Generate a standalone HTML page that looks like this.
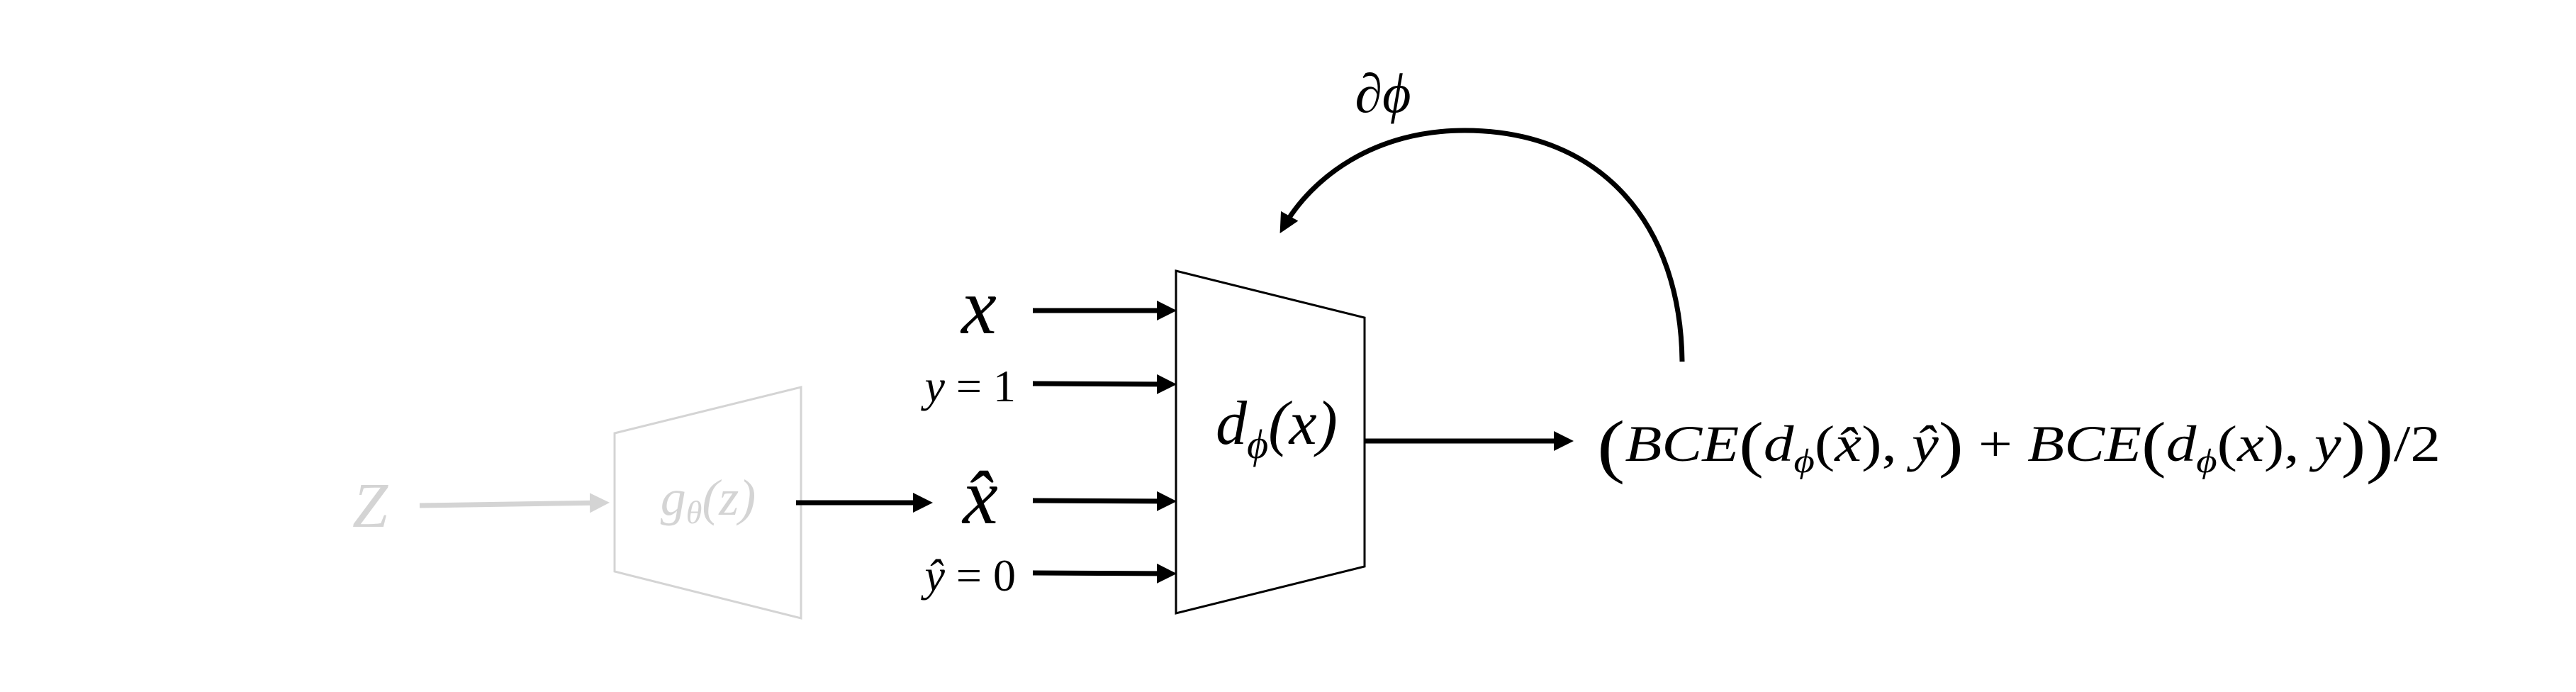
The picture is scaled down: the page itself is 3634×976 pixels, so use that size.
<!DOCTYPE html>
<html><head><meta charset="utf-8"><style>
html,body{margin:0;padding:0;background:#fff;}
svg{display:block;}
text{font-family:"Liberation Serif","DejaVu Serif",serif;font-style:italic;}
</style></head><body>
<svg width="3634" height="976" viewBox="0 0 3634 976" xmlns="http://www.w3.org/2000/svg">
<defs>
<marker id="ah" markerWidth="4" markerHeight="4" refX="3" refY="2" orient="auto" markerUnits="strokeWidth"><path d="M0,0 L4,2 L0,4 z" fill="#000"/></marker>
<marker id="ahg" markerWidth="4" markerHeight="4" refX="3" refY="2" orient="auto" markerUnits="strokeWidth"><path d="M0,0 L4,2 L0,4 z" fill="#d4d4d4"/></marker>
</defs>
<rect width="3634" height="976" fill="#fff"/>
<g transform="translate(-9,-2)">
<!-- generator (faded) -->
<text x="506" y="745" font-size="90" fill="#d4d4d4">Z</text>
<line x1="601" y1="715" x2="862" y2="711" stroke="#d4d4d4" stroke-width="7" marker-end="url(#ahg)"/>
<polygon points="876,613 1139,548 1139,874 876,808" fill="none" stroke="#d4d4d4" stroke-width="3"/>
<text x="1008" y="728" font-size="72" fill="#d4d4d4" text-anchor="middle">g<tspan font-size="46" dy="12">θ</tspan><tspan dy="-12">(z)</tspan></text>
<line x1="1132" y1="711" x2="1318" y2="711" stroke="#000" stroke-width="7" marker-end="url(#ah)"/>

<!-- input labels -->
<text x="1390" y="472" font-size="112" text-anchor="middle">x</text>
<text x="1442" y="568" font-size="64" text-anchor="end">y <tspan font-style="normal">= 1</tspan></text>
<text x="1392" y="740" font-size="112" text-anchor="middle">x̂</text>
<text x="1442" y="835" font-size="64" text-anchor="end">ŷ <tspan font-style="normal">= 0</tspan></text>

<!-- input arrows -->
<line x1="1466" y1="440" x2="1662" y2="440" stroke="#000" stroke-width="7" marker-end="url(#ah)"/>
<line x1="1466" y1="543" x2="1662" y2="544" stroke="#000" stroke-width="7" marker-end="url(#ah)"/>
<line x1="1466" y1="708" x2="1662" y2="709" stroke="#000" stroke-width="7" marker-end="url(#ah)"/>
<line x1="1466" y1="810" x2="1662" y2="811" stroke="#000" stroke-width="7" marker-end="url(#ah)"/>

<!-- discriminator -->
<polygon points="1668,384 1934,450 1934,801 1668,867" fill="none" stroke="#000" stroke-width="3"/>
<text x="1810" y="628" font-size="88" text-anchor="middle">d<tspan font-size="58" dy="20">ϕ</tspan><tspan dy="-20">(x)</tspan></text>
<line x1="1934" y1="624" x2="2222" y2="624" stroke="#000" stroke-width="7" marker-end="url(#ah)"/>

<!-- loss formula -->
<text x="2262" y="652" font-size="72" textLength="1190" lengthAdjust="spacingAndGlyphs"><tspan font-size="100" font-style="normal" dy="12">(</tspan><tspan dy="-12">BCE</tspan><tspan font-size="88" font-style="normal" dy="6">(</tspan><tspan dy="-6">d</tspan><tspan font-size="48" dy="16">ϕ</tspan><tspan dy="-16" font-style="normal">(</tspan>x̂<tspan font-style="normal">),</tspan> ŷ<tspan font-size="88" font-style="normal" dy="6">)</tspan><tspan dy="-6" font-style="normal"> + </tspan>BCE<tspan font-size="88" font-style="normal" dy="6">(</tspan><tspan dy="-6">d</tspan><tspan font-size="48" dy="16">ϕ</tspan><tspan dy="-16" font-style="normal">(</tspan>x<tspan font-style="normal">),</tspan> y<tspan font-size="88" font-style="normal" dy="6">)</tspan><tspan font-size="100" font-style="normal" dy="6">)</tspan><tspan dy="-12" font-style="normal">/2</tspan></text>

<!-- gradient feedback curve -->
<path d="M2382,512 C2380,320 2270,186 2075,186 C1950,186 1860,250 1818,325" fill="none" stroke="#000" stroke-width="7" marker-end="url(#ah)"/>
<text x="1960" y="160" font-size="78" text-anchor="middle">∂ϕ</text>
</g>
</svg>
</body></html>
